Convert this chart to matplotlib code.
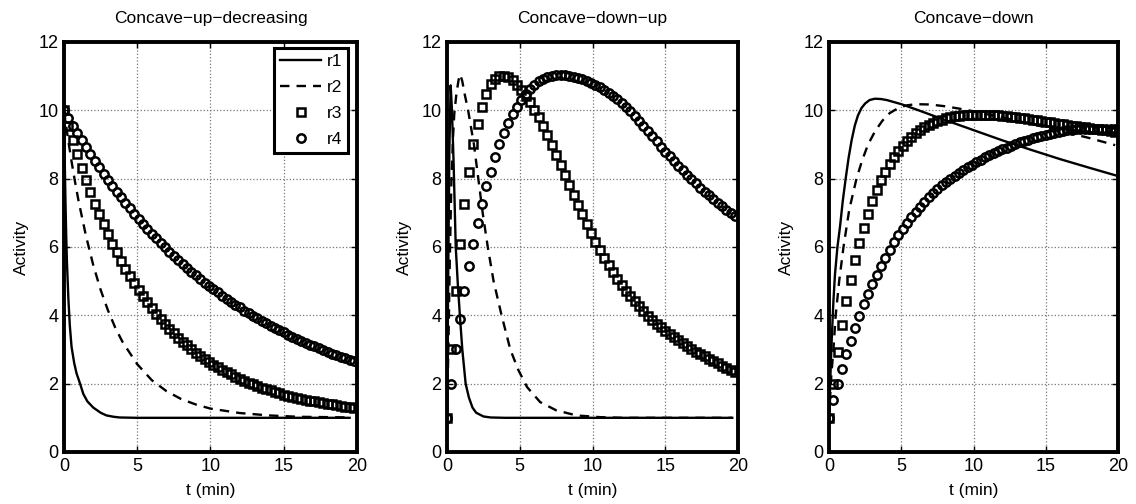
import numpy as np
import matplotlib
matplotlib.use("Agg")
import matplotlib.pyplot as plt

# ============================================================================
# data
# ============================================================================

# sample times of the marker series (min)
t_mark = np.arange(67) * 0.3

# --- Concave-up-decreasing ---
p1_r1_t = [0, 0.05, 0.1, 0.15, 0.2, 0.3, 0.4, 0.52, 0.7, 0.86, 1.1, 1.32, 1.6,
           2.0, 2.5, 2.9, 3.4, 3.8, 5.0, 19.5]
p1_r1 = [10, 8.6, 7.4, 6.4, 5.6, 4.5, 3.7, 3.07, 2.6, 2.3, 2.0, 1.7, 1.48,
         1.3, 1.15, 1.07, 1.03, 1.01, 1.0, 1.0]
p1_r2_t = [0, 0.25, 0.5, 0.75, 1, 1.5, 2, 2.5, 3, 3.5, 4, 5, 6, 7, 8, 9, 10,
           12, 14, 16, 18, 19.6]
p1_r2 = [10, 9.24, 8.55, 7.92, 7.34, 6.33, 5.47, 4.75, 4.15, 3.64, 3.22, 2.57,
         2.10, 1.78, 1.55, 1.39, 1.27, 1.14, 1.07, 1.03, 1.02, 1.01]
p1_r3 = [10.00, 9.55, 9.12, 8.71, 8.32, 7.95, 7.60, 7.27, 6.96, 6.66,
         6.37, 6.10, 5.85, 5.60, 5.37, 5.15, 4.94, 4.74, 4.56, 4.38,
         4.21, 4.05, 3.89, 3.75, 3.61, 3.48, 3.35, 3.23, 3.12, 3.02,
         2.91, 2.82, 2.73, 2.64, 2.56, 2.48, 2.40, 2.33, 2.27, 2.20,
         2.14, 2.09, 2.03, 1.98, 1.93, 1.88, 1.84, 1.80, 1.76, 1.72,
         1.68, 1.65, 1.62, 1.58, 1.55, 1.53, 1.50, 1.48, 1.45, 1.43,
         1.41, 1.39, 1.37, 1.35, 1.33, 1.31, 1.30]
p1_r4 = [10.00, 9.77, 9.55, 9.33, 9.12, 8.92, 8.72, 8.52, 8.33, 8.14,
         7.96, 7.79, 7.62, 7.45, 7.28, 7.13, 6.97, 6.82, 6.67, 6.53,
         6.39, 6.25, 6.12, 5.99, 5.86, 5.74, 5.62, 5.50, 5.39, 5.28,
         5.17, 5.06, 4.96, 4.86, 4.76, 4.67, 4.57, 4.48, 4.40, 4.31,
         4.23, 4.14, 4.06, 3.99, 3.91, 3.84, 3.77, 3.70, 3.63, 3.56,
         3.50, 3.43, 3.37, 3.31, 3.25, 3.20, 3.14, 3.09, 3.03, 2.98,
         2.93, 2.88, 2.83, 2.79, 2.74, 2.70, 2.66]

# --- Concave-down-up ---
p2_r1_t = [0, 0.08, 0.16, 0.25, 0.34, 0.45, 0.6, 0.75, 0.9, 1.05, 1.28, 1.5,
           1.75, 2.0, 2.5, 3.0, 4.0, 19.6]
p2_r1 = [1.0, 5.0, 8.8, 10.73, 10.0, 8.5, 6.0, 4.85, 3.9, 3.0, 2.0, 1.6,
         1.3, 1.15, 1.04, 1.01, 1.0, 1.0]
p2_r2_t = [0, 0.1, 0.2, 0.3, 0.4, 0.5, 0.65, 0.8, 0.91, 1.05, 1.2, 1.45, 1.65,
           1.85, 2.15, 2.45, 2.8, 3.2, 3.75, 4.35, 4.9, 5.5, 6.4, 7.5, 8.9,
           10.5, 12, 19.6]
p2_r2 = [1.0, 3.2, 5.8, 7.9, 9.1, 9.9, 10.5, 10.9, 11.05, 10.85, 10.5, 10.0,
         9.5, 9.0, 8.0, 7.0, 6.0, 5.0, 4.0, 3.0, 2.4, 1.9, 1.46, 1.22, 1.07,
         1.02, 1.0, 1.0]
p2_r3 = [1.00, 3.00, 4.70, 6.10, 7.27, 8.20, 9.00, 9.60, 10.10, 10.48,
         10.76, 10.92, 11.00, 11.01, 10.97, 10.88, 10.75, 10.59, 10.42, 10.23,
         10.02, 9.79, 9.54, 9.27, 8.99, 8.70, 8.41, 8.11, 7.82, 7.53,
         7.24, 6.96, 6.68, 6.41, 6.15, 5.91, 5.68, 5.46, 5.26, 5.07,
         4.89, 4.72, 4.56, 4.41, 4.26, 4.12, 3.99, 3.87, 3.76, 3.65,
         3.55, 3.45, 3.36, 3.27, 3.18, 3.10, 3.02, 2.94, 2.87, 2.80,
         2.73, 2.66, 2.60, 2.53, 2.47, 2.41, 2.35]
p2_r4 = [1.00, 2.00, 3.00, 3.90, 4.70, 5.45, 6.10, 6.70, 7.27, 7.78,
         8.20, 8.62, 9.00, 9.33, 9.62, 9.88, 10.10, 10.30, 10.48, 10.62,
         10.75, 10.85, 10.92, 10.97, 11.00, 11.02, 11.03, 11.02, 11.00, 10.98,
         10.95, 10.91, 10.86, 10.81, 10.75, 10.68, 10.60, 10.51, 10.42, 10.32,
         10.21, 10.09, 9.97, 9.83, 9.69, 9.54, 9.39, 9.24, 9.09, 8.94,
         8.79, 8.65, 8.51, 8.37, 8.24, 8.11, 7.98, 7.86, 7.74, 7.62,
         7.51, 7.40, 7.29, 7.19, 7.09, 6.99, 6.90]

# --- Concave-down ---
p3_r1_t = [0, 0.1, 0.18, 0.3, 0.41, 0.58, 0.76, 0.95, 1.15, 1.35, 1.56, 1.78,
           2.0, 2.25, 2.5, 2.8, 3.17, 3.6, 4.0, 5.0, 6.0, 8.0, 10.0, 12.0,
           14.0, 16.0, 18.0, 19.8]
p3_r1 = [1.0, 2.3, 3.25, 4.4, 5.2, 6.0, 6.6, 7.35, 8.0, 8.6, 9.12, 9.55,
         9.85, 10.07, 10.2, 10.3, 10.34, 10.33, 10.3, 10.18, 10.03, 9.72,
         9.42, 9.12, 8.84, 8.57, 8.32, 8.1]
p3_r2_t = [0, 0.15, 0.3, 0.46, 0.7, 1.0, 1.4, 1.9, 2.3, 2.7, 3.2, 3.7, 4.2,
           4.77, 5.3, 6.0, 7.0, 8.0, 9.0, 10.0, 12.0, 14.0, 16.0, 18.0, 19.8]
p3_r2 = [1.0, 2.2, 3.0, 4.0, 5.0, 6.0, 7.1, 8.0, 8.55, 9.0, 9.4, 9.7, 9.92,
         10.06, 10.14, 10.18, 10.17, 10.12, 10.05, 9.97, 9.79, 9.6, 9.4,
         9.19, 8.98]
p3_r3 = [1.00, 2.00, 2.93, 3.71, 4.42, 5.04, 5.61, 6.12, 6.57, 6.98,
         7.34, 7.66, 7.95, 8.20, 8.42, 8.63, 8.81, 8.97, 9.11, 9.23,
         9.34, 9.43, 9.51, 9.58, 9.64, 9.69, 9.73, 9.77, 9.80, 9.82,
         9.84, 9.85, 9.86, 9.87, 9.87, 9.87, 9.87, 9.86, 9.86, 9.85,
         9.84, 9.83, 9.81, 9.80, 9.78, 9.77, 9.75, 9.73, 9.71, 9.69,
         9.67, 9.65, 9.63, 9.61, 9.59, 9.57, 9.55, 9.53, 9.52, 9.50,
         9.48, 9.46, 9.45, 9.43, 9.41, 9.40, 9.38]
p3_r4 = [1.00, 1.51, 1.99, 2.44, 2.86, 3.26, 3.63, 3.98, 4.32, 4.63,
         4.92, 5.19, 5.45, 5.69, 5.92, 6.14, 6.34, 6.53, 6.71, 6.87,
         7.03, 7.18, 7.32, 7.45, 7.57, 7.69, 7.80, 7.90, 7.99, 8.08,
         8.17, 8.25, 8.33, 8.41, 8.48, 8.55, 8.62, 8.68, 8.74, 8.80,
         8.86, 8.91, 8.96, 9.01, 9.06, 9.10, 9.14, 9.18, 9.22, 9.26,
         9.29, 9.32, 9.35, 9.38, 9.40, 9.42, 9.43, 9.44, 9.45, 9.45,
         9.46, 9.46, 9.46, 9.46, 9.46, 9.45, 9.45]

titles = ["Concave\u2212up\u2212decreasing", "Concave\u2212down\u2212up", "Concave\u2212down"]
labels = ["r1", "r2", "r3", "r4"]

panels = [
    (p1_r1_t, p1_r1, p1_r2_t, p1_r2, p1_r3, p1_r4),
    (p2_r1_t, p2_r1, p2_r2_t, p2_r2, p2_r3, p2_r4),
    (p3_r1_t, p3_r1, p3_r2_t, p3_r2, p3_r3, p3_r4),
]

# ============================================================================
# figure
# ============================================================================

plt.rcParams.update({'font.family': ['Liberation Sans', 'DejaVu Sans'],
                     'font.size': 11})

fig = plt.figure(figsize=(11.36, 5.04), dpi=100)
lefts = [0.0563, 0.3935, 0.7298]
widths = [0.2579, 0.2562, 0.2544]

for i, (r1t, r1, r2t, r2, r3, r4) in enumerate(panels):
    ax = fig.add_axes([lefts[i], 0.1032, widths[i], 0.8135])
    ax.plot(r1t, r1, '-', color='k', lw=1.7, label=labels[0])
    ax.plot(r2t, r2, '--', color='k', lw=1.7, dashes=(4, 3), label=labels[1])
    ax.plot(t_mark, r3, 's', ms=5.5, mfc='none', mec='k', mew=1.8, label=labels[2])
    ax.plot(t_mark, r4, 'o', ms=6, mfc='none', mec='k', mew=1.8, label=labels[3])

    ax.set_xlim(0, 20)
    ax.set_ylim(0, 12)
    ax.set_xticks([0, 5, 10, 15, 20])
    ax.set_yticks([0, 2, 4, 6, 8, 10, 12])
    ax.grid(True, linestyle=':', color='#777777', linewidth=0.9)
    ax.tick_params(direction='in', top=True, right=True, length=4, width=1,
                   labelsize=13, pad=4)
    for s in ax.spines.values():
        s.set_linewidth(2.8)
    ax.set_title(titles[i], fontsize=12.5, pad=14)
    ax.set_xlabel("t (min)", fontsize=12.5, labelpad=6)
    ax.set_ylabel("Activity", fontsize=12.5, labelpad=7)

    if i == 0:
        leg = ax.legend(loc='upper right', bbox_to_anchor=(0.97, 0.985),
                        numpoints=1, handlelength=2.4, fontsize=12.5,
                        fancybox=False, framealpha=1, borderaxespad=0,
                        labelspacing=0.62, handletextpad=0.3,
                        borderpad=0.35)
        leg.get_frame().set_edgecolor('k')
        leg.get_frame().set_linewidth(2.2)

plt.savefig("out.png", dpi=100)
